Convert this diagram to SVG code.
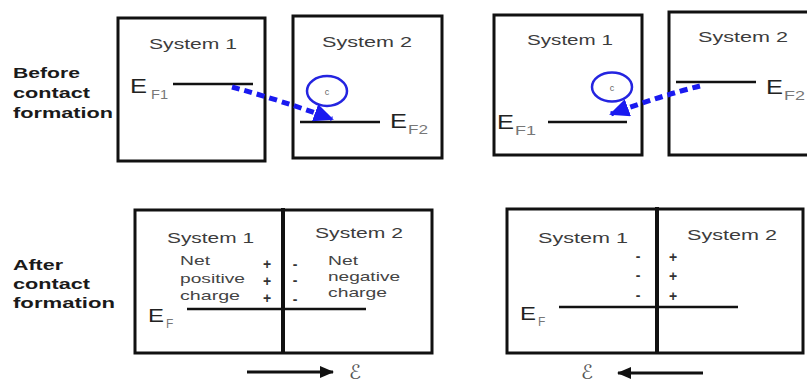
<svg xmlns="http://www.w3.org/2000/svg" width="807" height="384" viewBox="0 0 807 384">
<defs>
<style>
.box{fill:#fff;stroke:#111;stroke-width:3}
.div{stroke:#111;stroke-width:4}
.sys{font-family:"Liberation Sans",Arial,sans-serif;font-size:15px;fill:#3c3c3c}
.lab{font-family:"Liberation Sans",Arial,sans-serif;font-size:15.5px;font-weight:bold;fill:#1a1a1a}
.E{font-family:"Liberation Sans",Arial,sans-serif;font-size:20px;fill:#222}
.sub{font-family:"Liberation Sans",Arial,sans-serif;font-size:12px;fill:#777}
.lvl{stroke:#111;stroke-width:2.5}
.chg{font-family:"Liberation Sans",Arial,sans-serif;font-size:13px;fill:#444}
.pm{font-family:"Liberation Sans",Arial,sans-serif;font-size:14px;font-weight:bold;fill:#333;text-anchor:middle}
.eo{fill:none;stroke:#2424e0;stroke-width:2.5}
.ec{font-family:"Liberation Sans",Arial,sans-serif;font-size:9px;fill:#666;text-anchor:middle}
.flow{fill:none;stroke:#1a1af0;stroke-width:5;stroke-dasharray:8 5}
.field{stroke:#111;stroke-width:3}
.scr{font-family:"DejaVu Sans",sans-serif;font-size:20px;fill:#555}
</style>
<marker id="blueHead" viewBox="0 0 20 18" refX="18" refY="9" markerWidth="20" markerHeight="18" markerUnits="userSpaceOnUse" orient="auto">
<path d="M0,0 L20,9 L0,18 z" fill="#1a1af0"/>
</marker>
<marker id="blackHead" viewBox="0 0 14 12" refX="13" refY="6" markerWidth="14" markerHeight="12" markerUnits="userSpaceOnUse" orient="auto">
<path d="M0,0 L14,6 L0,12 z" fill="#111"/>
</marker>
</defs>
<rect width="807" height="384" fill="#fff"/>

<g id="label-before">
<text class="lab" x="13" y="78" textLength="67" lengthAdjust="spacingAndGlyphs">Before</text>
<text class="lab" x="13" y="98" textLength="77" lengthAdjust="spacingAndGlyphs">contact</text>
<text class="lab" x="13" y="118" textLength="100" lengthAdjust="spacingAndGlyphs">formation</text>
</g>
<g id="label-after">
<text class="lab" x="13" y="270" textLength="50" lengthAdjust="spacingAndGlyphs">After</text>
<text class="lab" x="13" y="289" textLength="77" lengthAdjust="spacingAndGlyphs">contact</text>
<text class="lab" x="13" y="308" textLength="102" lengthAdjust="spacingAndGlyphs">formation</text>
</g>

<g id="before-a-system1">
<rect class="box" x="118" y="18" width="147" height="143"/>
<text class="sys" x="149" y="49" textLength="88" lengthAdjust="spacingAndGlyphs">System 1</text>
<line class="lvl" x1="173" y1="84" x2="253" y2="84"/>
<text class="E" x="130" y="93" textLength="17" lengthAdjust="spacingAndGlyphs">E</text>
<text class="sub" x="151" y="99" textLength="17" lengthAdjust="spacingAndGlyphs">F1</text>
</g>
<g id="before-a-system2">
<rect class="box" x="293" y="16" width="149" height="142"/>
<text class="sys" x="322" y="47" textLength="90" lengthAdjust="spacingAndGlyphs">System 2</text>
<ellipse class="eo" cx="327" cy="91" rx="20" ry="15"/>
<text class="ec" x="327" y="95">c</text>
<line class="lvl" x1="300" y1="122" x2="380" y2="122"/>
<text class="E" x="390" y="128" textLength="17" lengthAdjust="spacingAndGlyphs">E</text>
<text class="sub" x="408" y="134" textLength="20" lengthAdjust="spacingAndGlyphs">F2</text>
</g>

<g id="before-b-system1">
<rect class="box" x="494" y="15" width="148" height="140"/>
<text class="sys" x="527" y="45" textLength="86" lengthAdjust="spacingAndGlyphs">System 1</text>
<ellipse class="eo" cx="612" cy="87" rx="20" ry="14.5"/>
<text class="ec" x="612" y="91">c</text>
<line class="lvl" x1="548" y1="122" x2="627" y2="122"/>
<text class="E" x="497" y="129" textLength="17" lengthAdjust="spacingAndGlyphs">E</text>
<text class="sub" x="515" y="135" textLength="21" lengthAdjust="spacingAndGlyphs">F1</text>
</g>
<g id="before-b-system2">
<rect class="box" x="669" y="12" width="150" height="143"/>
<text class="sys" x="698" y="42" textLength="90" lengthAdjust="spacingAndGlyphs">System 2</text>
<line class="lvl" x1="676" y1="82" x2="756" y2="82"/>
<text class="E" x="766" y="94" textLength="17" lengthAdjust="spacingAndGlyphs">E</text>
<text class="sub" x="784" y="100" textLength="21" lengthAdjust="spacingAndGlyphs">F2</text>
</g>

<g id="after-a">
<rect class="box" x="135" y="210" width="297" height="143"/>
<line class="div" x1="283" y1="208" x2="283" y2="354"/>
<text class="sys" x="167" y="243" textLength="87" lengthAdjust="spacingAndGlyphs">System 1</text>
<text class="sys" x="315" y="238" textLength="88" lengthAdjust="spacingAndGlyphs">System 2</text>
<text class="chg" x="180" y="265" textLength="30" lengthAdjust="spacingAndGlyphs">Net</text>
<text class="chg" x="180" y="283" textLength="65" lengthAdjust="spacingAndGlyphs">positive</text>
<text class="chg" x="180" y="300" textLength="60" lengthAdjust="spacingAndGlyphs">charge</text>
<text class="pm" x="267" y="269">+</text>
<text class="pm" x="267" y="286">+</text>
<text class="pm" x="267" y="303">+</text>
<text class="pm" x="295" y="269">-</text>
<text class="pm" x="295" y="285">-</text>
<text class="pm" x="295" y="304">-</text>
<text class="chg" x="328" y="265" textLength="30" lengthAdjust="spacingAndGlyphs">Net</text>
<text class="chg" x="328" y="281" textLength="72" lengthAdjust="spacingAndGlyphs">negative</text>
<text class="chg" x="328" y="297" textLength="59" lengthAdjust="spacingAndGlyphs">charge</text>
<line class="lvl" x1="187" y1="309" x2="366" y2="309"/>
<text class="E" x="148" y="322" style="font-size:19px" textLength="16" lengthAdjust="spacingAndGlyphs">E</text>
<text class="sub" x="166" y="328">F</text>
</g>

<g id="after-b">
<rect class="box" x="507" y="209" width="296" height="144"/>
<line class="div" x1="657" y1="207" x2="657" y2="354"/>
<text class="sys" x="538" y="243" textLength="90" lengthAdjust="spacingAndGlyphs">System 1</text>
<text class="sys" x="687" y="240" textLength="90" lengthAdjust="spacingAndGlyphs">System 2</text>
<text class="pm" x="638" y="261">-</text>
<text class="pm" x="638" y="280">-</text>
<text class="pm" x="638" y="300">-</text>
<text class="pm" x="673" y="262">+</text>
<text class="pm" x="673" y="281">+</text>
<text class="pm" x="673" y="301">+</text>
<line class="lvl" x1="559" y1="307" x2="738" y2="307"/>
<text class="E" x="520" y="320" style="font-size:19px" textLength="16" lengthAdjust="spacingAndGlyphs">E</text>
<text class="sub" x="538" y="326">F</text>
</g>

<g id="connectors">
<path class="flow" d="M232,87 Q280,100 332,119" marker-end="url(#blueHead)"/>
<path class="flow" d="M700,86 Q660,96 611,114" marker-end="url(#blueHead)"/>
<line class="field" x1="247" y1="372" x2="333" y2="372" marker-end="url(#blackHead)"/>
<text class="scr" x="349" y="379">ℰ</text>
<line class="field" x1="703" y1="373" x2="618" y2="373" marker-end="url(#blackHead)"/>
<text class="scr" x="581" y="379">ℰ</text>
</g>
</svg>
